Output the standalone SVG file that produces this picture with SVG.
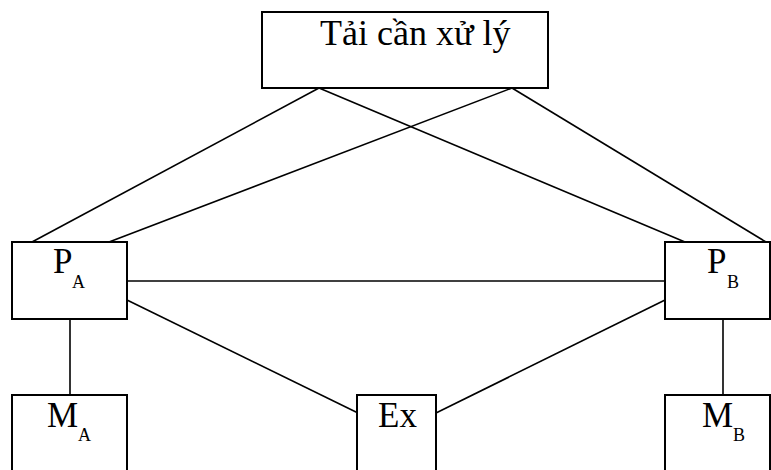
<svg xmlns="http://www.w3.org/2000/svg" width="771" height="470" viewBox="0 0 771 470">
<style>
.box{fill:#fff;stroke:#000;stroke-width:2}
.ln{stroke:#000;stroke-width:1.6;fill:none}
.t{font-family:"Liberation Serif","Times New Roman",serif;font-size:35px;fill:#000}
.s{font-family:"Liberation Serif","Times New Roman",serif;font-size:18px;fill:#000}
</style>
<rect width="771" height="470" fill="#fff"/>
<g id="connectors">
<line class="ln" x1="319" y1="88" x2="32" y2="242"/>
<line class="ln" x1="512" y1="88" x2="109" y2="242"/>
<line class="ln" x1="319" y1="88" x2="685" y2="242"/>
<line class="ln" x1="512" y1="88" x2="766" y2="242"/>
<line class="ln" x1="127" y1="281" x2="665" y2="281"/>
<line class="ln" x1="127" y1="300" x2="358" y2="413"/>
<line class="ln" x1="436" y1="413" x2="665" y2="300"/>
<line class="ln" x1="70" y1="319" x2="70" y2="395"/>
<line class="ln" x1="723" y1="319" x2="723" y2="395"/>
</g>
<g id="load">
<rect class="box" x="262" y="12" width="286" height="76"/>
<text class="t" x="320" y="45" style="font-size:36px">Tải cần xử lý</text>
</g>
<g id="PA">
<rect class="box" x="12" y="242" width="115" height="77"/>
<text class="t" x="53" y="273">P</text><text class="s" x="72" y="288">A</text>
</g>
<g id="PB">
<rect class="box" x="665" y="242" width="105" height="77"/>
<text class="t" x="707" y="273">P</text><text class="s" x="727" y="288">B</text>
</g>
<g id="MA">
<rect class="box" x="12" y="395" width="115" height="80"/>
<text class="t" x="47" y="427">M</text><text class="s" x="78" y="441">A</text>
</g>
<g id="Ex">
<rect class="box" x="357" y="395" width="79" height="80"/>
<text class="t" x="378" y="427">Ex</text>
</g>
<g id="MB">
<rect class="box" x="665" y="395" width="105" height="80"/>
<text class="t" x="702" y="427">M</text><text class="s" x="733" y="441">B</text>
</g>
</svg>
